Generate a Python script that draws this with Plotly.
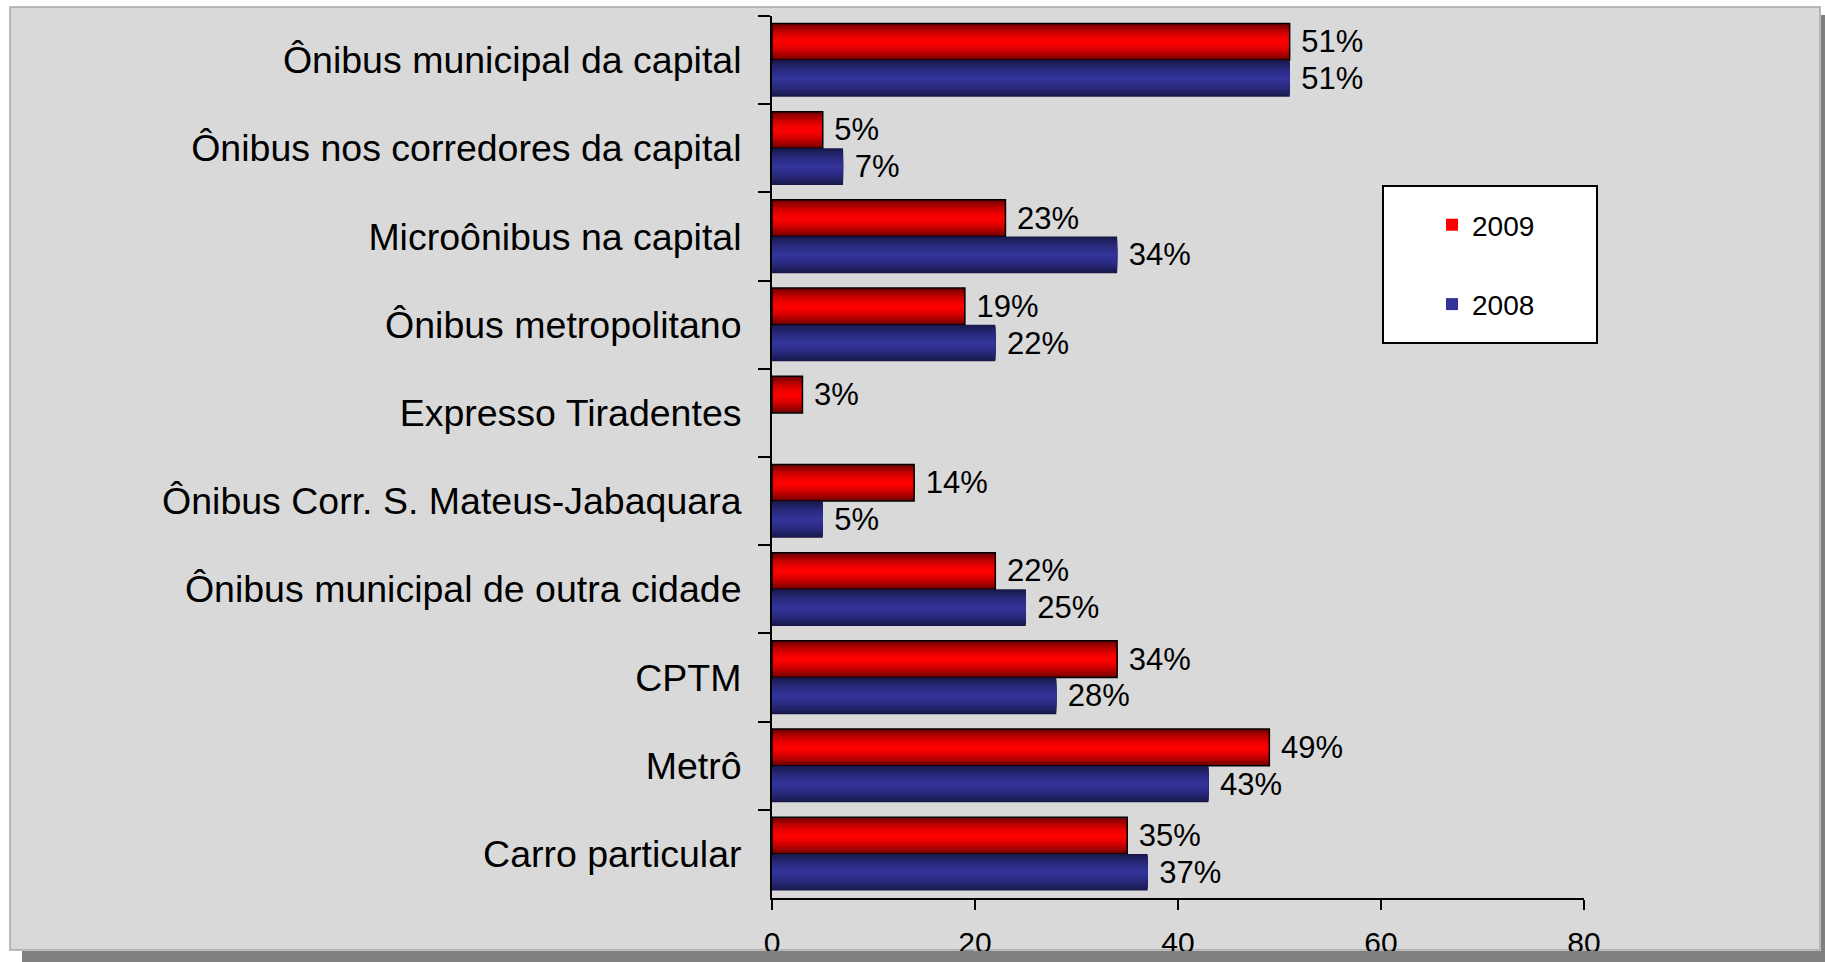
import plotly.graph_objects as go

categories = [
    "Ônibus municipal da capital",
    "Ônibus nos corredores da capital",
    "Microônibus na capital",
    "Ônibus metropolitano",
    "Expresso Tiradentes",
    "Ônibus Corr. S. Mateus-Jabaquara",
    "Ônibus municipal de outra cidade",
    "CPTM",
    "Metrô",
    "Carro particular",
]
values_2009 = [51, 5, 23, 19, 3, 14, 22, 34, 49, 35]
values_2008 = [51, 7, 34, 22, None, 5, 25, 28, 43, 37]
x_ticks = [0, 20, 40, 60, 80]

W, H = 1825, 962
L, R, T, B = 772, 1584, 16, 898  # plot area in pixels


def px(x):
    return (x - L) / (R - L)


def py(y):
    return (B - y) / (B - T)


BAR_W = 0.4155
N = 14
FONT = "Liberation Sans, Arial, sans-serif"


def hex2rgb(h):
    h = h.lstrip("#")
    return [int(h[i:i + 2], 16) for i in (0, 2, 4)]


def mix(c1, c2, f):
    a, b = hex2rgb(c1), hex2rgb(c2)
    return "rgb(%d,%d,%d)" % tuple(round(a[i] + (b[i] - a[i]) * f) for i in range(3))


fig = go.Figure()


def add_series(name, vals, offset, edge, center, outline):
    for k in range(N):
        frac = 1 - k / N
        bright = 1 - frac ** 1.6
        w = BAR_W * frac
        off = offset + (BAR_W - w) / 2
        fig.add_trace(go.Bar(
            y=categories, x=vals, orientation="h", width=w, offset=off,
            marker=dict(color=mix(edge, center, bright), line=dict(width=0)),
            name=name, legendgroup=name, showlegend=(k == N - 1),
            hoverinfo="skip",
        ))
    fig.add_trace(go.Bar(
        y=categories, x=vals, orientation="h", width=BAR_W, offset=offset,
        marker=dict(color="rgba(0,0,0,0)",
                    line=dict(width=1.5 if outline else 0, color="black")),
        name=name, legendgroup=name, showlegend=False,
        text=[(" %d%%" % v) if v is not None else "" for v in vals],
        textposition="outside", constraintext="none", cliponaxis=False,
        textfont=dict(size=31, color="black", family=FONT),
        hoverinfo="skip",
    ))


add_series("2009", values_2009, -BAR_W, "#700000", "#ff0000", True)
add_series("2008", values_2008, 0.0, "#18184a", "#333399", False)

shapes = [
    # panel
    dict(type="rect", xref="paper", yref="paper", layer="below",
         x0=px(10), x1=px(1820), y0=py(950), y1=py(7),
         fillcolor="#d9d9d9", line=dict(color="#a6a6a6", width=1.5)),
    # shadow strips
    dict(type="rect", xref="paper", yref="paper", layer="above",
         x0=px(22), x1=px(1830), y0=py(970), y1=py(951),
         fillcolor="#808080", line=dict(width=0)),
    dict(type="rect", xref="paper", yref="paper", layer="above",
         x0=px(1821), x1=px(1830), y0=py(970), y1=py(15),
         fillcolor="#808080", line=dict(width=0)),
    # legend box
    dict(type="rect", xref="paper", yref="paper", layer="below",
         x0=px(1383), x1=px(1597), y0=py(343), y1=py(186),
         fillcolor="white", line=dict(color="black", width=2)),
]

fig.update_layout(
    width=W, height=H,
    margin=dict(l=L, r=W - R, t=T, b=H - B, pad=0, autoexpand=False),
    paper_bgcolor="white", plot_bgcolor="rgba(0,0,0,0)",
    barmode="overlay",
    font=dict(family=FONT, color="black"),
    showlegend=True,
    legend=dict(
        x=px(1432), xanchor="left", y=py(200), yanchor="top",
        bgcolor="rgba(0,0,0,0)", borderwidth=0,
        font=dict(size=28, color="black", family=FONT),
        tracegroupgap=40, traceorder="grouped",
    ),
    shapes=shapes,
    xaxis=dict(
        range=[0, 80], tickvals=x_ticks, ticktext=[str(v) for v in x_ticks],
        showgrid=False, zeroline=False, showline=True, linecolor="black", linewidth=2,
        ticks="outside", ticklen=10, tickwidth=2, tickcolor="black",
        tickfont=dict(size=30, color="black", family=FONT),
        ticklabelstandoff=7, automargin=False,
    ),
    yaxis=dict(
        type="category", categoryorder="array", categoryarray=categories,
        range=[len(categories) - 0.5, -0.5],
        showgrid=False, zeroline=False, showline=True, linecolor="black", linewidth=2,
        ticks="outside", ticklen=12, tickwidth=2, tickcolor="black", tickson="boundaries",
        tickfont=dict(size=37.5, color="black", family=FONT),
        ticklabelstandoff=21, automargin=False,
    ),
)

fig.write_html(
    "out.html",
    config={"displayModeBar": False},
    post_script="document.body.style.margin='0';document.body.style.overflow='hidden';",
)
